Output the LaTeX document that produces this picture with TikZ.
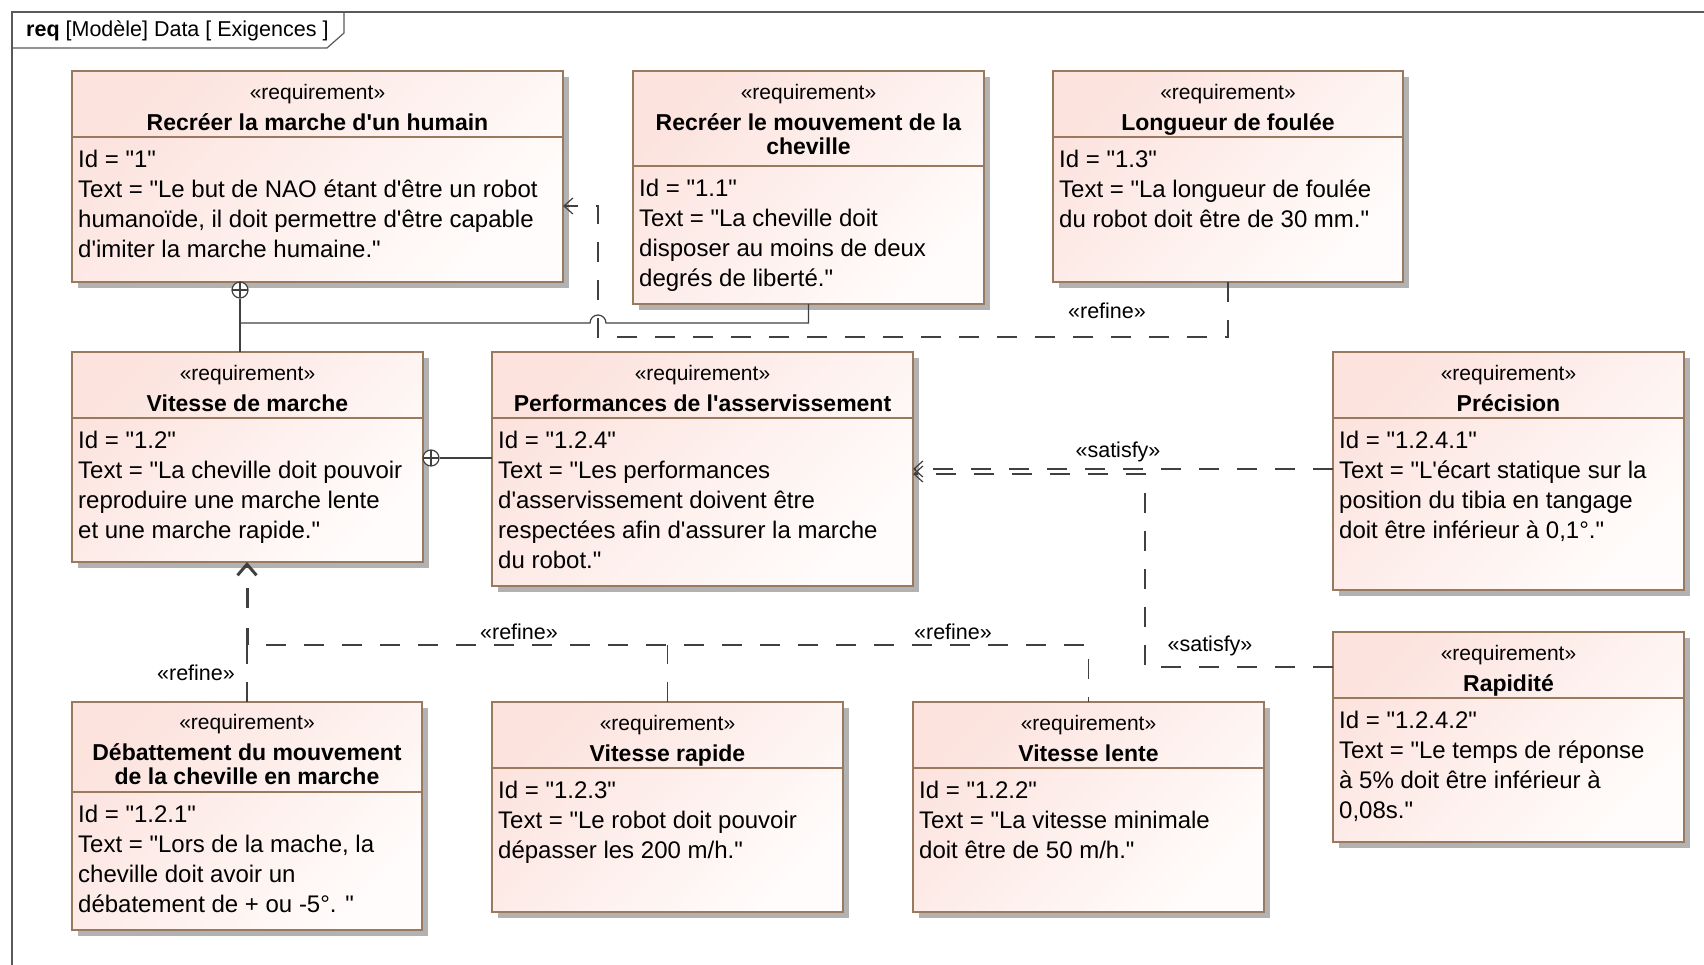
\documentclass[tikz,border=0pt]{standalone}
\usepackage{fontspec}
\setmainfont{Liberation Sans}[Ligatures=TeXOff]
\usetikzlibrary{positioning,calc,shadows,arrows.meta}
\definecolor{reqpink}{RGB}{252,227,222}
\definecolor{reqlight}{RGB}{255,252,251}
\definecolor{reqborder}{RGB}{154,122,94}
\definecolor{linkgray}{RGB}{64,64,64}
\newcommand{\reqname}[1]{{\fontsize{23}{31}\selectfont\bfseries #1}}

\begin{document}
\begin{tikzpicture}[x=1pt,y=-1pt,
    req/.style={draw=reqborder,line width=1.8pt,anchor=north west,inner sep=0,outer sep=0,
      top color=reqpink,bottom color=reqlight,shading angle=45,
      drop shadow={shadow xshift=6pt,shadow yshift=-6pt,fill=black!30,opacity=1}},
    sep/.style={draw=reqborder,line width=1.5pt},
    hdr/.style={anchor=north,inner sep=0,align=center,font=\fontsize{21}{31}\selectfont},
    att/.style={anchor=north west,inner sep=0,align=left,font=\fontsize{24}{30}\selectfont},
    lbl/.style={inner sep=0,font=\fontsize{21.5}{24}\selectfont},
    frame/.style={draw=black!65,line width=1.2pt},
    link/.style={draw=linkgray,line width=1.2pt},
    refine/.style={link,dash pattern=on 20pt off 18pt},
    satisfy/.style={link,dash pattern=on 20pt off 18pt},
    openhead/.style={-{Straight Barb[length=9pt,width=16pt]}},
    owned/.style={circle,draw=linkgray,line width=1.2pt,fill=white,minimum size=16pt,inner sep=0,
      path picture={\draw[linkgray,line width=1.2pt]
        (path picture bounding box.north) -- (path picture bounding box.south)
        (path picture bounding box.west) -- (path picture bounding box.east);}}]
    \useasboundingbox (0,0) rectangle (1704,965);

    % diagram frame
    \draw[frame] (12,965) -- (12,12) -- (1704,12);
    \draw[frame] (12,48) -- (327,48) -- (344,33) -- (344,12);
    \node[lbl,anchor=west] (title) at (26,31) {\textbf{req} [Modèle] Data [ Exigences ]};

    % Recréer la marche d'un humain
    \node[req,minimum width=491,minimum height=211] (r1) at (72,71) {};
    \coordinate (r1s) at (72,137);
    \draw[sep] (r1s) -- (r1s -| r1.east);
    \node[hdr] (r1h) at (r1.north) {\rule{0pt}{28pt}«requirement»\\\reqname{Recréer la marche d'un humain}};
    \node[att] (r1b) at ([xshift=6pt]r1s) {\rule{0pt}{30pt}Id = "1"\\Text = "Le but de NAO étant d'être un robot\\humanoïde, il doit permettre d'être capable\\d'imiter la marche humaine."};

    % Recréer le mouvement de la cheville
    \node[req,minimum width=351,minimum height=233] (r11) at (633,71) {};
    \coordinate (r11s) at (633,166);
    \draw[sep] (r11s) -- (r11s -| r11.east);
    \node[hdr] (r11h) at (r11.north) {\rule{0pt}{28pt}«requirement»\\\reqname{Recréer le mouvement de la}\\[-7pt]\reqname{cheville}};
    \node[att] (r11b) at ([xshift=6pt]r11s) {\rule{0pt}{30pt}Id = "1.1"\\Text = "La cheville doit\\disposer au moins de deux\\degrés de liberté."};

    % Longueur de foulée
    \node[req,minimum width=350,minimum height=211] (r13) at (1053,71) {};
    \coordinate (r13s) at (1053,137);
    \draw[sep] (r13s) -- (r13s -| r13.east);
    \node[hdr] (r13h) at (r13.north) {\rule{0pt}{28pt}«requirement»\\\reqname{Longueur de foulée}};
    \node[att] (r13b) at ([xshift=6pt]r13s) {\rule{0pt}{30pt}Id = "1.3"\\Text = "La longueur de foulée\\du robot doit être de 30 mm."};

    % Vitesse de marche
    \node[req,minimum width=351,minimum height=210] (r12) at (72,352) {};
    \coordinate (r12s) at (72,418);
    \draw[sep] (r12s) -- (r12s -| r12.east);
    \node[hdr] (r12h) at (r12.north) {\rule{0pt}{28pt}«requirement»\\\reqname{Vitesse de marche}};
    \node[att] (r12b) at ([xshift=6pt]r12s) {\rule{0pt}{30pt}Id = "1.2"\\Text = "La cheville doit pouvoir\\reproduire une marche lente\\et une marche rapide."};

    % Performances de l'asservissement
    \node[req,minimum width=421,minimum height=234] (r124) at (492,352) {};
    \coordinate (r124s) at (492,418);
    \draw[sep] (r124s) -- (r124s -| r124.east);
    \node[hdr] (r124h) at (r124.north) {\rule{0pt}{28pt}«requirement»\\\reqname{Performances de l'asservissement}};
    \node[att] (r124b) at ([xshift=6pt]r124s) {\rule{0pt}{30pt}Id = "1.2.4"\\Text = "Les performances\\d'asservissement doivent être\\respectées afin d'assurer la marche\\du robot."};

    % Précision
    \node[req,minimum width=351,minimum height=238] (r1241) at (1333,352) {};
    \coordinate (r1241s) at (1333,418);
    \draw[sep] (r1241s) -- (r1241s -| r1241.east);
    \node[hdr] (r1241h) at (r1241.north) {\rule{0pt}{28pt}«requirement»\\\reqname{Précision}};
    \node[att] (r1241b) at ([xshift=6pt]r1241s) {\rule{0pt}{30pt}Id = "1.2.4.1"\\Text = "L'écart statique sur la\\position du tibia en tangage\\doit être inférieur à 0,1°."};

    % Rapidité
    \node[req,minimum width=351,minimum height=210] (r1242) at (1333,632) {};
    \coordinate (r1242s) at (1333,698);
    \draw[sep] (r1242s) -- (r1242s -| r1242.east);
    \node[hdr] (r1242h) at (r1242.north) {\rule{0pt}{28pt}«requirement»\\\reqname{Rapidité}};
    \node[att] (r1242b) at ([xshift=6pt]r1242s) {\rule{0pt}{30pt}Id = "1.2.4.2"\\Text = "Le temps de réponse\\à 5\% doit être inférieur à\\0,08s."};

    % Débattement du mouvement de la cheville en marche
    \node[req,minimum width=350,minimum height=228] (r121) at (72,702) {};
    \coordinate (r121s) at (72,792);
    \draw[sep] (r121s) -- (r121s -| r121.east);
    \node[hdr] (r121h) at (r121.north) {\rule{0pt}{27pt}«requirement»\\\reqname{Débattement du mouvement}\\[-7pt]\reqname{de la cheville en marche}};
    \node[att] (r121b) at ([xshift=6pt]r121s) {\rule{0pt}{30pt}Id = "1.2.1"\\Text = "Lors de la mache, la\\cheville doit avoir un\\débatement de + ou -5°. "};

    % Vitesse rapide
    \node[req,minimum width=351,minimum height=210] (r123) at (492,702) {};
    \coordinate (r123s) at (492,768);
    \draw[sep] (r123s) -- (r123s -| r123.east);
    \node[hdr] (r123h) at (r123.north) {\rule{0pt}{28pt}«requirement»\\\reqname{Vitesse rapide}};
    \node[att] (r123b) at ([xshift=6pt]r123s) {\rule{0pt}{30pt}Id = "1.2.3"\\Text = "Le robot doit pouvoir\\dépasser les 200 m/h."};

    % Vitesse lente
    \node[req,minimum width=351,minimum height=210] (r122) at (913,702) {};
    \coordinate (r122s) at (913,768);
    \draw[sep] (r122s) -- (r122s -| r122.east);
    \node[hdr] (r122h) at (r122.north) {\rule{0pt}{28pt}«requirement»\\\reqname{Vitesse lente}};
    \node[att] (r122b) at ([xshift=6pt]r122s) {\rule{0pt}{30pt}Id = "1.2.2"\\Text = "La vitesse minimale\\doit être de 50 m/h."};

    % containment
    \node[owned] (o1) at (240,290) {};
    \node[owned] (o12) at (431,458) {};
    \draw[link] (o1) -- (o1 |- r12.north);
    \draw[link] (r11.south) -- (r11.south |- 0,323) -- (606,323)
      arc[start angle=0,end angle=180,radius=8pt] -- (o1 |- 0,323);
    \draw[link] (o12) -- (r124.west |- o12);

    % refine
    \draw[refine,openhead] (r13.south) -- (r13.south |- 0,337) -- (598,337) -- (598,206) -- (r1.east |- 0,206);
    \coordinate (j12) at (r121.north |- 0,645);
    \draw[refine] (r121.north) -- (j12) -- (r122.north |- j12) -- (r122.north);
    \draw[refine] (r123.north) -- (r123.north |- j12);
    \draw[link,line width=3pt,dash pattern=on 20pt off 20pt,dash phase=3pt,
      -{Straight Barb[length=11pt,width=19pt,line width=3pt]}] (j12) -- (j12 |- r12.south);
    \node[lbl] (l1) at (1107,311) {«refine»};
    \node[lbl] (l2) at (196,673) {«refine»};
    \node[lbl] (l3) at (519,632) {«refine»};
    \node[lbl] (l4) at (953,632) {«refine»};

    % satisfy
    \draw[satisfy,openhead] (r1241.west |- 0,469) -- (r124.east |- 0,469);
    \draw[satisfy,openhead] (r1242.west |- 0,667) -- (1145,667) -- (1145,474) -- (r124.east |- 0,474);
    \node[lbl] (l5) at (1118,452) {«satisfy»};
    \node[lbl] (l6) at (1210,646) {«satisfy»};
\end{tikzpicture}
\end{document}
